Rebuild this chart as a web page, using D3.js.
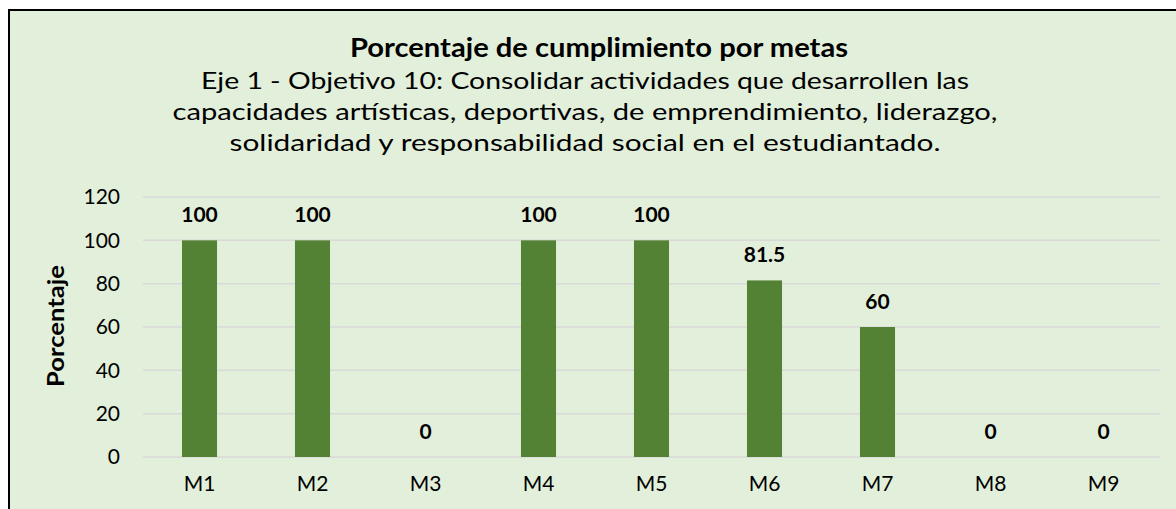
<!DOCTYPE html>
<html>
<head>
<meta charset="utf-8">
<script src="https://cdn.jsdelivr.net/npm/d3@7"></script>
<style>
  body { margin: 0; background: #ffffff; }
  svg text { font-family: Lato, "Open Sans", sans-serif; fill: #000; }
</style>
</head>
<body>
<svg id="chart" width="1176" height="509"></svg>
<script>
/***** Chart data *****/
var metas = ["M1", "M2", "M3", "M4", "M5", "M6", "M7", "M8", "M9"];
var cumplimiento = [100, 100, 0, 100, 100, 81.5, 60, 0, 0];
var yTicks = [0, 20, 40, 60, 80, 100, 120];

var titulo = "Porcentaje de cumplimiento por metas";
var subtitulo = [
    "Eje 1 - Objetivo 10: Consolidar actividades que desarrollen las",
    "capacidades artísticas, deportivas, de emprendimiento, liderazgo,",
    "solidaridad y responsabilidad social en el estudiantado."
];
// approximate widths of each subtitle line in the original
var subtituloAncho = [768, 825, 711];

var svg = d3.select("#chart");

/***** Background and border *****/
svg.append("rect")
    .attr("x", 9).attr("y", 10)
    .attr("width", 1180).attr("height", 520)
    .attr("fill", "#E2EFDA")
    .attr("stroke", "#000")
    .attr("stroke-width", 2);

var margin = {left: 143, right: 16, top: 197, bottom: 52};
var width = 1176 - margin.left - margin.right;
var height = 509 - margin.top - margin.bottom;

var g = svg.append("g")
    .attr("transform", "translate(" + margin.left + "," + margin.top + ")");

var x = d3.scaleBand().domain(metas).range([0, width]).paddingInner(0.69).paddingOuter(0.345);
var y = d3.scaleLinear().domain([0, 120]).range([height, 0]);

/***** Gridlines *****/
g.selectAll(".grid")
    .data(yTicks)
    .enter().append("line")
    .attr("x1", 0).attr("x2", width)
    .attr("y1", function(d) { return y(d); })
    .attr("y2", function(d) { return y(d); })
    .attr("stroke", "#D9D9D9")
    .attr("stroke-width", 1.5);

/***** Axes *****/
var yAxis = g.append("g")
    .call(d3.axisLeft(y).tickValues(yTicks).tickSize(0).tickPadding(23));
yAxis.select(".domain").remove();
yAxis.selectAll("text")
    .attr("font-size", "21px")
    .style("font-family", "Lato, 'Open Sans', sans-serif");

var xAxis = g.append("g")
    .attr("transform", "translate(0," + height + ")")
    .call(d3.axisBottom(x).tickSize(0).tickPadding(19));
xAxis.select(".domain").remove();
xAxis.selectAll("text")
    .attr("font-size", "21px")
    .style("font-family", "Lato, 'Open Sans', sans-serif");

/***** Bars *****/
var data = metas.map(function(m, i) { return {name: m, value: cumplimiento[i]}; });

g.selectAll(".bar")
    .data(data)
    .enter().append("rect")
    .attr("class", "bar")
    .attr("x", function(d) { return x(d.name); })
    .attr("width", x.bandwidth())
    .attr("y", function(d) { return y(d.value); })
    .attr("height", function(d) { return height - y(d.value); })
    .attr("fill", "#548235");

// value labels
g.selectAll(".label")
    .data(data)
    .enter().append("text")
    .attr("x", function(d) { return x(d.name) + x.bandwidth() / 2; })
    .attr("y", function(d) { return y(d.value) - 18; })
    .attr("text-anchor", "middle")
    .attr("font-size", "21px")
    .attr("font-weight", "bold")
    .text(function(d) { return d.value; });

/***** Axis title *****/
svg.append("text")
    .attr("transform", "translate(64,326) rotate(-90)")
    .attr("text-anchor", "middle")
    .attr("font-size", "23px")
    .attr("font-weight", "bold")
    .attr("textLength", 122)
    .attr("lengthAdjust", "spacingAndGlyphs")
    .text("Porcentaje");

/***** Titles *****/
svg.append("text")
    .attr("x", 599).attr("y", 57)
    .attr("text-anchor", "middle")
    .attr("font-size", "26px")
    .attr("font-weight", "bold")
    .attr("textLength", 498)
    .attr("lengthAdjust", "spacingAndGlyphs")
    .text(titulo);

svg.selectAll(".sub")
    .data(subtitulo)
    .enter().append("text")
    .attr("class", "sub")
    .attr("x", 585)
    .attr("y", function(d, i) { return 89 + i * 31; })
    .attr("text-anchor", "middle")
    .attr("font-size", "24px")
    .attr("textLength", function(d, i) { return subtituloAncho[i]; })
    .attr("lengthAdjust", "spacingAndGlyphs")
    .text(function(d) { return d; });
</script>
</body>
</html>
